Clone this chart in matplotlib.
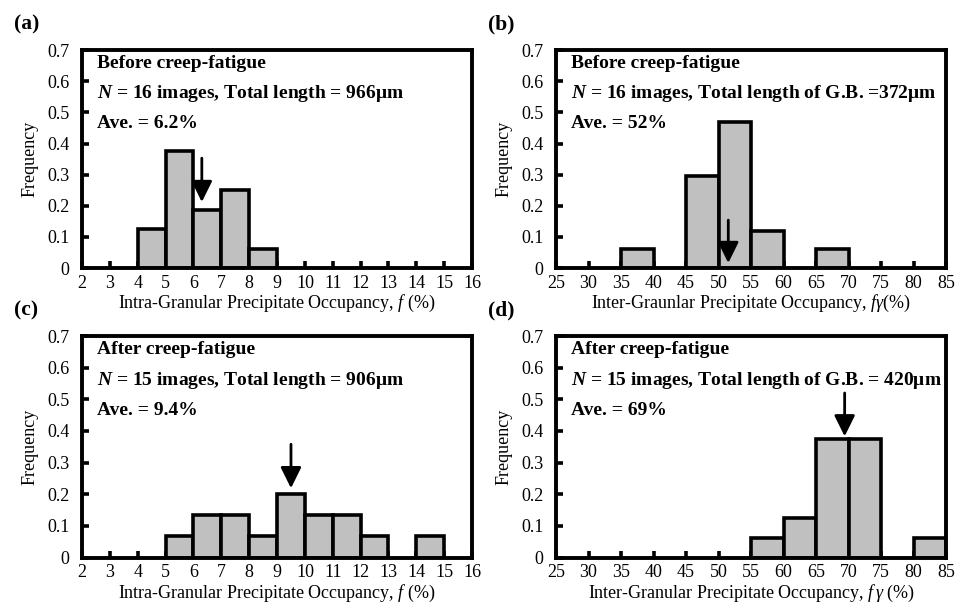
import numpy as np
import matplotlib
matplotlib.use("Agg")
import matplotlib.pyplot as plt

plt.rcParams["font.family"] = "Liberation Serif"
plt.rcParams["mathtext.fontset"] = "custom"
plt.rcParams["mathtext.rm"] = "Liberation Serif"
plt.rcParams["mathtext.it"] = "Liberation Serif:italic"
plt.rcParams["mathtext.bf"] = "Liberation Serif:bold"
plt.rcParams["mathtext.bfit"] = "Liberation Serif:bold:italic"

# ---------------------------
# Data (bin left edges, frequencies)
# ---------------------------
a_edges = [4, 5, 6, 7, 8]
a_freq = [0.125, 0.375, 0.1875, 0.25, 0.0625]
a_avg = 6.3

b_edges = [35, 45, 50, 55, 65]
b_freq = [0.0625, 0.295, 0.47, 0.12, 0.0625]
b_avg = 51.5

c_edges = [5, 6, 7, 8, 9, 10, 11, 12, 14]
c_freq = [0.067, 0.133, 0.133, 0.067, 0.2, 0.133, 0.133, 0.067, 0.067]
c_avg = 9.5

d_edges = [55, 60, 65, 70, 80]
d_freq = [0.0625, 0.125, 0.375, 0.375, 0.0625]
d_avg = 69.4

intra_ticks = list(range(2, 17))
inter_ticks = list(range(25, 90, 5))
y_ticks = [0, 0.1, 0.2, 0.3, 0.4, 0.5, 0.6, 0.7]
y_labels = ["0", "0.1", "0.2", "0.3", "0.4", "0.5", "0.6", "0.7"]

panels = [
    dict(tag="(a)", edges=a_edges, freq=a_freq, width=1, ticks=intra_ticks, avg=a_avg,
         arrow=(0.353, 0.212),
         lines=["Before creep-fatigue",
                r"$\mathbfit{N}$ = 16 images, Total length = 966μm",
                "Ave. = 6.2%"],
         xlabel=r"Intra-Granular Precipitate Occupancy, $f$ (%)",
         pos=[0.0858, 0.557, 0.408, 0.360]),
    dict(tag="(b)", edges=b_edges, freq=b_freq, width=5, ticks=inter_ticks, avg=b_avg,
         arrow=(0.154, 0.016),
         lines=["Before creep-fatigue",
                r"$\mathbfit{N}$ = 16 images, Total length of G.B. =372μm",
                "Ave. = 52%"],
         xlabel=r"Inter-Graunlar Precipitate Occupancy, $f\gamma$(%)",
         pos=[0.5816, 0.557, 0.408, 0.360]),
    dict(tag="(c)", edges=c_edges, freq=c_freq, width=1, ticks=intra_ticks, avg=c_avg,
         arrow=(0.358, 0.219),
         lines=["After creep-fatigue",
                r"$\mathbfit{N}$ = 15 images, Total length = 906μm",
                "Ave. = 9.4%"],
         xlabel=r"Intra-Granular Precipitate Occupancy, $f$ (%)",
         pos=[0.0858, 0.0785, 0.408, 0.366]),
    dict(tag="(d)", edges=d_edges, freq=d_freq, width=5, ticks=inter_ticks, avg=d_avg,
         arrow=(0.52, 0.383),
         lines=["After creep-fatigue",
                r"$\mathbfit{N}$ = 15 images, Total length of G.B. = 420μm",
                "Ave. = 69%"],
         xlabel=r"Inter-Granular Precipitate Occupancy, $f\,\gamma$ (%)",
         pos=[0.5816, 0.0785, 0.408, 0.366]),
]

fig = plt.figure(figsize=(9.56, 6.05), dpi=100)

for p in panels:
    ax = fig.add_axes(p["pos"])
    ax.bar(p["edges"], p["freq"], width=p["width"], align="edge",
           color="#c0c0c0", edgecolor="black", linewidth=2.6, zorder=2)
    ax.set_xlim(p["ticks"][0], p["ticks"][-1])
    ax.set_ylim(0, 0.7)
    ax.set_xticks(p["ticks"])
    ax.set_yticks(y_ticks)
    ax.set_yticklabels(y_labels)
    ax.tick_params(direction="in", length=5, width=2.6, labelsize=13)
    ax.tick_params(axis="x", pad=5)
    ax.tick_params(axis="y", pad=9)
    for s in ax.spines.values():
        s.set_linewidth(2.8)
        s.set_zorder(3)
    ax.set_ylabel("Frequency", fontsize=13, labelpad=6)
    ax.set_xlabel(p["xlabel"], fontsize=13, labelpad=1)

    ys = [0.94, 0.80, 0.665]
    for txt, yy in zip(p["lines"], ys):
        ax.text(0.038, yy, txt, transform=ax.transAxes, fontsize=14,
                fontweight="bold", va="center", ha="left")

    y0, y1 = p["arrow"]
    ax.annotate("", xy=(p["avg"], y1), xytext=(p["avg"], y0),
                arrowprops=dict(arrowstyle="-|>,head_width=0.42,head_length=0.85",
                                mutation_scale=15, color="black", lw=2,
                                shrinkA=0, shrinkB=0),
                zorder=4)

    fig.text(p["pos"][0] - 0.071, p["pos"][1] + p["pos"][3] + 0.043, p["tag"],
             fontsize=15.5, fontweight="bold", va="center", ha="left")

fig.savefig("out.png", dpi=100)
